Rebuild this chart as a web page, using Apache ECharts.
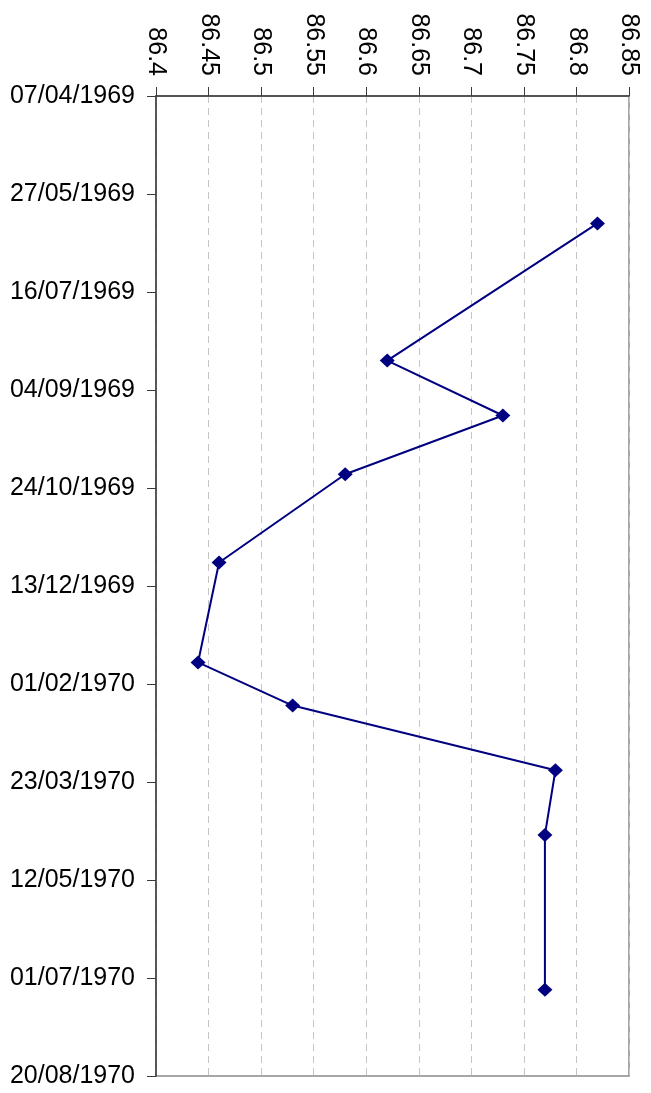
<!DOCTYPE html>
<html>
<head>
<meta charset="utf-8">
<script src="https://cdn.jsdelivr.net/npm/echarts@6/dist/echarts.min.js"></script>
<style>
  html, body { margin: 0; padding: 0; background: #ffffff; }
  #chart { width: 651px; height: 1093px; }
</style>
</head>
<body>
<div id="chart"></div>
<script>
// Sample dates (ISO) and measured values
const sampleDates = [
  '1969-06-11', '1969-08-20', '1969-09-17', '1969-10-17', '1969-12-01',
  '1970-01-21', '1970-02-12', '1970-03-17', '1970-04-19', '1970-07-07'
];
const sampleValues = [
  86.82, 86.62, 86.73, 86.58, 86.46,
  86.44, 86.53, 86.78, 86.77, 86.77
];

// Value axis (top) range and step
const valueMin = 86.4;
const valueMax = 86.85;
const valueStep = 0.05;

// Date axis range as spreadsheet serial day numbers (07/04/1969 .. 20/08/1970), 50-day steps
const dateMin = 25300;
const dateMax = 25800;
const dateStep = 50;

const DAY_MS = 86400000;
const SERIAL_EPOCH = 25569; // serial number of 1970-01-01

function toSerial(iso) {
  const [y, m, d] = iso.split('-').map(Number);
  return Date.UTC(y, m - 1, d) / DAY_MS + SERIAL_EPOCH;
}
function serialLabel(serial) {
  const dt = new Date((serial - SERIAL_EPOCH) * DAY_MS);
  const dd = String(dt.getUTCDate()).padStart(2, '0');
  const mm = String(dt.getUTCMonth() + 1).padStart(2, '0');
  return dd + '/' + mm + '/' + dt.getUTCFullYear();
}

const points = sampleDates.map((d, i) => [sampleValues[i], toSerial(d)]);

const font = 'Liberation Sans, Arial, Helvetica, sans-serif';
const chart = echarts.init(document.getElementById('chart'), null, { renderer: 'canvas' });

chart.setOption({
  animation: false,
  backgroundColor: '#ffffff',
  grid: {
    left: 156, right: 22, top: 96, bottom: 17,
    show: true,
    borderColor: '#8a8a8a',
    borderWidth: 1.5,
    backgroundColor: 'transparent'
  },
  xAxis: {
    type: 'value',
    position: 'top',
    min: valueMin,
    max: valueMax,
    interval: valueStep,
    axisLine: { show: true, lineStyle: { color: '#3a3a3a', width: 1.5 } },
    axisTick: { show: true, inside: false, length: 9, lineStyle: { color: '#3a3a3a', width: 1 } },
    axisLabel: {
      rotate: 90,
      margin: 20,
      fontSize: 25,
      fontFamily: font,
      color: '#000000',
      formatter: v => String(parseFloat(v.toFixed(2)))
    },
    splitLine: { show: true, lineStyle: { color: '#c4c4c4', type: [7, 5], width: 1 } }
  },
  yAxis: {
    type: 'value',
    inverse: true,
    min: dateMin,
    max: dateMax,
    interval: dateStep,
    axisLine: { show: true, lineStyle: { color: '#3a3a3a', width: 1.5 } },
    axisTick: { show: true, inside: false, length: 9, lineStyle: { color: '#3a3a3a', width: 1 } },
    axisLabel: {
      margin: 21,
      fontSize: 25,
      fontFamily: font,
      color: '#000000',
      formatter: v => serialLabel(v)
    },
    splitLine: { show: false }
  },
  series: [{
    type: 'line',
    data: points,
    symbol: 'diamond',
    symbolSize: [15, 14],
    itemStyle: { color: '#000080' },
    lineStyle: { color: '#000080', width: 2 }
  }]
});
</script>
</body>
</html>
